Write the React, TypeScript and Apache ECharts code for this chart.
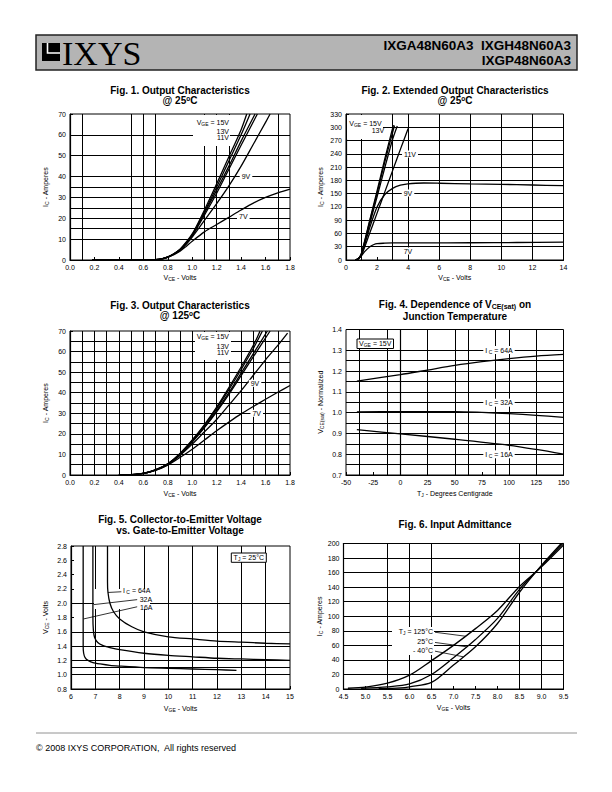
import React, { useEffect, useRef } from "react";
import * as echarts from "echarts";

const FONT = "'Liberation Sans', Arial, Helvetica, sans-serif";

// ---------------- Fig. 1 : Output characteristics @ 25C (VCE, IC)
const fig1Grid = { xs: [0.1, 0.5, 0.6, 0.7, 1.1, 1.2, 1.3, 1.7], ys: [10, 15, 20, 25, 30, 35, 40, 50, 60] };
const fig1V15 = [[0.18, 0], [0.5, 0], [0.7, 0.2], [0.75, 0.5], [0.8, 1.5], [0.85, 3], [0.9, 5.2], [0.95, 8.5], [1.0, 12.5], [1.05, 18], [1.1, 24], [1.2, 36.5], [1.3, 49.5], [1.4, 62.5], [1.446, 70]];
const fig1V13a = [[0.18, 0], [0.5, 0], [0.7, 0.2], [0.75, 0.5], [0.8, 1.5], [0.85, 3], [0.9, 5], [0.95, 8.2], [1.0, 12], [1.05, 17.3], [1.1, 23], [1.2, 35], [1.3, 47.5], [1.4, 60], [1.473, 70]];
const fig1V13 = [[0.18, 0], [0.5, 0], [0.7, 0.2], [0.75, 0.5], [0.8, 1.4], [0.85, 2.9], [0.9, 4.9], [0.95, 8], [1.0, 11.7], [1.1, 22.5], [1.2, 33.5], [1.3, 45], [1.4, 57], [1.514, 70]];
const fig1V11 = [[0.18, 0], [0.5, 0], [0.7, 0.2], [0.75, 0.5], [0.8, 1.4], [0.85, 2.8], [0.9, 4.8], [0.95, 7.8], [1.0, 11.5], [1.1, 21.5], [1.2, 32], [1.3, 43.5], [1.4, 55], [1.533, 70]];
const fig1V9 = [[0.18, 0], [0.5, 0], [0.7, 0.2], [0.75, 0.5], [0.8, 1.4], [0.85, 2.8], [0.9, 4.6], [0.95, 7.5], [1.0, 11], [1.1, 19], [1.2, 27], [1.3, 35.5], [1.4, 45], [1.5, 55.5], [1.6, 66], [1.637, 70]];
const fig1V7 = [[0.18, 0], [0.5, 0], [0.7, 0.2], [0.75, 0.5], [0.8, 1.3], [0.85, 2.5], [0.9, 4.2], [0.95, 6.5], [1.0, 9], [1.1, 13.5], [1.2, 17], [1.3, 20.5], [1.4, 24], [1.5, 27.3], [1.6, 30], [1.7, 32.2], [1.8, 34]];

// ---------------- Fig. 2 : Extended output characteristics @ 25C
const fig2Grid = { xs: [1, 3, 4, 6, 8, 10, 12], ys: [30, 60, 90, 120, 150, 180, 210, 240, 270, 300] };
const fig2V15 = [[0.6, 0], [0.8, 3], [1.0, 16], [1.5, 86], [2.0, 156], [2.5, 229], [3.05, 305]];
const fig2V13a = [[0.6, 0], [0.8, 3], [1.0, 15], [1.5, 83], [2.0, 151], [2.5, 222], [3.12, 304]];
const fig2V13 = [[0.6, 0], [0.8, 3], [1.0, 13], [1.5, 78], [2.0, 143], [2.5, 209], [3.0, 273], [3.3, 303]];
const fig2V11 = [[0.6, 0], [0.8, 3], [1.0, 11], [1.5, 58], [2.0, 106], [2.5, 154], [3.0, 202], [3.5, 250], [4.0, 297]];
const fig2V9 = [[0.6, 0], [0.8, 3], [1.0, 12], [1.5, 70], [2.0, 120], [2.5, 148], [3.0, 162], [3.5, 169], [4.0, 172], [4.5, 173.5], [5, 174], [6, 173.5], [8, 172], [10, 171], [12, 169.5], [14, 168]];
const fig2V7 = [[0.6, 0], [0.9, 6], [1.2, 19], [1.5, 29], [1.8, 35], [2.0, 37], [2.5, 38], [3, 38.5], [5, 38.5], [8, 39], [11, 39.5], [14, 40.5]];

// ---------------- Fig. 3 : Output characteristics @ 125C
const fig3Grid = {
  xs: [0.1, 0.2, 0.3, 0.4, 0.5, 0.6, 0.7, 0.8, 0.9, 1.0, 1.1, 1.2, 1.3, 1.4, 1.5, 1.6, 1.7],
  ys: [5, 10, 15, 20, 25, 30, 35, 40, 45, 50, 55, 60, 65],
};
const fig3V15 = [[0.4, 0], [0.5, 0.2], [0.6, 0.8], [0.7, 2.5], [0.8, 5.5], [0.9, 10.5], [1.0, 17], [1.1, 24.5], [1.2, 33], [1.3, 42.5], [1.4, 52.5], [1.5, 63], [1.555, 70]];
const fig3V13a = [[0.4, 0], [0.5, 0.2], [0.6, 0.8], [0.7, 2.5], [0.8, 5.4], [0.9, 10.3], [1.0, 16.7], [1.1, 24], [1.2, 32.3], [1.3, 41.5], [1.4, 51.3], [1.5, 61.5], [1.574, 70]];
const fig3V13 = [[0.4, 0], [0.5, 0.2], [0.6, 0.8], [0.7, 2.5], [0.8, 5.3], [0.9, 10], [1.0, 16.3], [1.1, 23.3], [1.2, 31.3], [1.3, 40], [1.4, 49.5], [1.5, 59], [1.615, 70]];
const fig3V11 = [[0.4, 0], [0.5, 0.2], [0.6, 0.8], [0.7, 2.5], [0.8, 5.2], [0.9, 9.8], [1.0, 16], [1.1, 23], [1.2, 30.7], [1.3, 39.2], [1.4, 48.3], [1.5, 57.5], [1.637, 70]];
const fig3V9 = [[0.4, 0], [0.5, 0.2], [0.6, 0.8], [0.7, 2.4], [0.8, 5], [0.9, 9.5], [1.0, 15], [1.1, 21], [1.2, 27], [1.3, 34], [1.4, 41], [1.5, 48.5], [1.6, 56], [1.7, 63], [1.78, 69]];
const fig3V7 = [[0.4, 0], [0.5, 0.2], [0.6, 0.8], [0.7, 2.3], [0.8, 4.8], [0.9, 8.5], [1.0, 12.5], [1.1, 17], [1.2, 21.5], [1.3, 25.7], [1.4, 29.7], [1.5, 33.3], [1.6, 36.8], [1.7, 40.2], [1.8, 43.5]];

// ---------------- Fig. 4 : VCE(sat) normalized vs TJ
const fig4Grid = { xs: [-37.5, -12.5, 0, 25, 50, 62.5, 87.5, 100, 125], ys: [0.75, 0.8, 0.85, 0.9, 0.95, 1.0, 1.05, 1.1, 1.15, 1.2, 1.25, 1.3] };
const fig4I64 = [[-40, 1.152], [0, 1.183], [25, 1.205], [50, 1.227], [75, 1.245], [100, 1.26], [125, 1.272], [150, 1.28]];
const fig4I32 = [[-40, 1.003], [0, 1.005], [50, 1.005], [75, 1.001], [100, 0.995], [125, 0.987], [150, 0.977]];
const fig4I16 = [[-40, 0.918], [0, 0.898], [50, 0.872], [100, 0.843], [125, 0.823], [150, 0.8]];

// ---------------- Fig. 5 : VCE vs VGE
const fig5Grid = { xs: [7, 8, 9, 10, 11, 12, 13, 14], ys: [1.0, 1.1, 1.2, 1.4, 1.6, 2.0] };
const fig5I64 = [[7.5, 2.8], [7.5, 2.3], [7.52, 2.15], [7.6, 2.0], [7.75, 1.88], [8, 1.78], [8.5, 1.67], [9, 1.6], [10, 1.53], [11, 1.5], [12, 1.47], [13, 1.455], [14, 1.44], [15, 1.43]];
const fig5I32 = [[6.9, 2.8], [6.9, 1.8], [6.92, 1.62], [6.97, 1.52], [7.1, 1.45], [7.3, 1.41], [7.6, 1.38], [8, 1.35], [9, 1.3], [10, 1.27], [11, 1.25], [12, 1.23], [13, 1.22], [14, 1.21], [15, 1.2]];
const fig5I16 = [[6.5, 2.8], [6.5, 1.4], [6.52, 1.3], [6.58, 1.24], [6.7, 1.2], [6.9, 1.17], [7.2, 1.15], [7.6, 1.13], [8, 1.12], [9, 1.1], [10, 1.09], [11, 1.08], [12, 1.07], [12.8, 1.06]];
const fig5Leaders = [
  [[7.52, 2.15], [8.07, 2.16]],
  [[6.93, 1.98], [8.72, 2.05]],
  [[6.52, 1.78], [8.72, 1.95]],
];

// ---------------- Fig. 6 : Input admittance
const fig6Grid = { xs: [5.5, 6.0, 6.5, 8.5, 9.0], ys: [20, 40, 60, 80, 100, 120, 140, 160, 180] };
const fig6T125 = [[4.6, 1], [5.0, 2.5], [5.5, 8], [6.0, 19], [6.5, 39], [7.0, 60], [7.5, 83], [8.0, 108], [8.5, 141], [9.0, 168], [9.5, 198]];
const fig6T25 = [[4.9, 1], [5.5, 3], [6.0, 7], [6.5, 20], [7.0, 43], [7.5, 68], [8.0, 97], [8.5, 137], [9.0, 169], [9.5, 201]];
const fig6Tm40 = [[5.3, 0.5], [5.8, 1.5], [6.0, 3], [6.5, 9], [7.0, 33], [7.5, 58], [8.0, 90], [8.5, 133], [9.0, 170], [9.45, 200]];
const fig6Leaders = [
  [[6.58, 78], [7.28, 72.5]],
  [[6.58, 64], [7.3, 58]],
  [[6.58, 52], [7.22, 44.3]],
];

// ---------------- axes
const axesCfg = [
  { x: [0, 1.8, 0.2, 1], y: [0, 70, 10, 0], xName: "V{s|CE} - Volts", yName: "I{s|C} - Amperes", xGap: 13, yGap: 21 },
  { x: [0, 14, 2, 0], y: [0, 330, 30, 0], xName: "V{s|CE} - Volts", yName: "I{s|C} - Amperes", xGap: 13, yGap: 22 },
  { x: [0, 1.8, 0.2, 1], y: [0, 70, 10, 0], xName: "V{s|CE} - Volts", yName: "I{s|C} - Amperes", xGap: 14, yGap: 21 },
  { x: [-50, 150, 25, 0], y: [0.7, 1.4, 0.1, 1], xName: "T{s|J} - Degrees Centigrade", yName: "V{s|CE(sat)} - Normalized", xGap: 14, yGap: 22 },
  { x: [6, 15, 1, 0], y: [0.8, 2.8, 0.2, 1], xName: "V{s|GE} - Volts", yName: "V{s|CE} - Volts", xGap: 15, yGap: 22 },
  { x: [4.5, 9.5, 0.5, 1], y: [0, 200, 20, 0], xName: "V{s|GE} - Volts", yName: "I{s|C} - Amperes", xGap: 14, yGap: 19 },
];

const grids = [
  { left: 70, top: 114, width: 220, height: 146 },
  { left: 346, top: 114, width: 217.5, height: 146 },
  { left: 70, top: 331, width: 220, height: 144 },
  { left: 346, top: 329.5, width: 217.5, height: 145.5 },
  { left: 71, top: 546, width: 219, height: 143 },
  { left: 343.5, top: 543.5, width: 220, height: 145.5 },
];

const SUB = { fontSize: 5, fontFamily: FONT, fill: "#000", color: "#000", verticalAlign: "bottom", padding: [3, 0, 0, 0] };
const SUBB = { fontSize: 7, fontFamily: FONT, fontWeight: "bold", fill: "#000", color: "#000", verticalAlign: "bottom", padding: [4, 0, 0, 0] };
const SUP = { fontSize: 6.5, fontFamily: FONT, fontWeight: "bold", fill: "#000", verticalAlign: "top", padding: [0, 0, 4, 0] };

function axisCommon(min: number, max: number, interval: number, dec: number, name: string, gap: number) {
  return {
    type: "value",
    min,
    max,
    interval,
    axisLine: { show: true, lineStyle: { color: "#000", width: 1.2 } },
    axisTick: { show: true, inside: true, length: 3, lineStyle: { color: "#000", width: 1 } },
    axisLabel: {
      fontSize: 7,
      color: "#000",
      fontFamily: FONT,
      margin: 4,
      formatter: (v: number) => v.toFixed(dec),
    },
    splitLine: { show: false },
    name,
    nameLocation: "middle",
    nameGap: gap,
    nameTextStyle: { fontSize: 7, color: "#000", fontFamily: FONT, rich: { s: { ...SUB } } },
  };
}

function gridSeries(i: number, g: { xs: number[]; ys: number[] }, cfg: any) {
  return {
    type: "line",
    xAxisIndex: i,
    yAxisIndex: i,
    data: [[cfg.x[0], cfg.y[0]]],
    showSymbol: false,
    lineStyle: { opacity: 0 },
    silent: true,
    z: 1,
    markLine: {
      z: 1,
      silent: true,
      symbol: ["none", "none"],
      label: { show: false },
      emphasis: { disabled: true },
      lineStyle: { color: "#000", width: 1, type: "solid" },
      data: [...g.xs.map((v) => ({ xAxis: v })), ...g.ys.map((v) => ({ yAxis: v }))],
    },
  };
}

function curve(i: number, name: string, data: number[][], smooth = 0.3) {
  return {
    type: "line",
    name,
    xAxisIndex: i,
    yAxisIndex: i,
    data,
    smooth,
    showSymbol: false,
    silent: true,
    z: 3,
    lineStyle: { color: "#000", width: 1.3 },
  };
}

function leaderSeries(i: number, leaders: number[][][]) {
  return {
    type: "line",
    xAxisIndex: i,
    yAxisIndex: i,
    data: [],
    silent: true,
    z: 4,
    markLine: {
      z: 4,
      silent: true,
      symbol: ["none", "none"],
      label: { show: false },
      emphasis: { disabled: true },
      lineStyle: { color: "#000", width: 0.8, type: "solid" },
      data: leaders.map((l) => [{ coord: l[0] }, { coord: l[1] }]),
    },
  };
}

function txt(x: number, y: number, text: string, o: any = {}) {
  const align = o.align || "center";
  return {
    type: "text",
    x,
    y,
    z: o.z ?? 5,
    silent: true,
    style: {
      text,
      fill: "#000",
      fontSize: o.size || 7,
      fontFamily: o.family || FONT,
      fontWeight: o.weight || "normal",
      align,
      textAlign: align,
      verticalAlign: "middle",
      textVerticalAlign: "middle",
      backgroundColor: o.bg,
      padding: o.bg ? [0, 2, 0, 2] : 0,
      rich: o.rich || { s: { ...SUB }, sb: { ...SUBB }, sp: { ...SUP } },
    },
  };
}

function box(x: number, y: number, w: number, h: number, border = false) {
  return {
    type: "rect",
    z: 2,
    silent: true,
    shape: { x, y, width: w, height: h },
    style: { fill: "#fff", stroke: border ? "#000" : null, lineWidth: border ? 1 : 0 },
  };
}

function title(x: number, y: number, text: string) {
  return txt(x, y, text, { size: 10, weight: "bold" });
}

export default function App() {
  const ref = useRef<HTMLDivElement>(null);
  useEffect(() => {
    const chart = echarts.init(ref.current!, undefined, { renderer: "svg", width: 612, height: 792 });

    const xAxis = axesCfg.map((c, i) => ({ gridIndex: i, ...axisCommon(c.x[0], c.x[1], c.x[2], c.x[3], c.xName, c.xGap) }));
    const yAxis = axesCfg.map((c, i) => ({ gridIndex: i, ...axisCommon(c.y[0], c.y[1], c.y[2], c.y[3], c.yName, c.yGap) }));

    const series: any[] = [
      gridSeries(0, fig1Grid, axesCfg[0]),
      curve(0, "15V", fig1V15),
      curve(0, "13V a", fig1V13a),
      curve(0, "13V", fig1V13),
      curve(0, "11V", fig1V11),
      curve(0, "9V", fig1V9),
      curve(0, "7V", fig1V7),
      gridSeries(1, fig2Grid, axesCfg[1]),
      curve(1, "15V", fig2V15, 0.2),
      curve(1, "13V a", fig2V13a, 0.2),
      curve(1, "13V", fig2V13, 0.2),
      curve(1, "11V", fig2V11, 0.2),
      curve(1, "9V", fig2V9),
      curve(1, "7V", fig2V7),
      gridSeries(2, fig3Grid, axesCfg[2]),
      curve(2, "15V", fig3V15),
      curve(2, "13V a", fig3V13a),
      curve(2, "13V", fig3V13),
      curve(2, "11V", fig3V11),
      curve(2, "9V", fig3V9),
      curve(2, "7V", fig3V7),
      gridSeries(3, fig4Grid, axesCfg[3]),
      curve(3, "64A", fig4I64),
      curve(3, "32A", fig4I32),
      curve(3, "16A", fig4I16),
      gridSeries(4, fig5Grid, axesCfg[4]),
      curve(4, "64A", fig5I64, 0.25),
      curve(4, "32A", fig5I32, 0.25),
      curve(4, "16A", fig5I16, 0.25),
      leaderSeries(4, fig5Leaders),
      gridSeries(5, fig6Grid, axesCfg[5]),
      curve(5, "125C", fig6T125),
      curve(5, "25C", fig6T25),
      curve(5, "-40C", fig6Tm40),
      leaderSeries(5, fig6Leaders),
    ];

    const graphic: any[] = [
      // header
      { type: "rect", z: 1, silent: true, shape: { x: 36, y: 35, width: 541, height: 35 }, style: { fill: "#b4b4b4", stroke: "#222", lineWidth: 1.5 } },
      { type: "rect", z: 2, silent: true, shape: { x: 42, y: 43, width: 18, height: 18 }, style: { fill: "#000" } },
      { type: "polyline", z: 3, silent: true, shape: { points: [[47.5, 43], [47.5, 53], [60, 53]] }, style: { stroke: "#fff", lineWidth: 1.6, fill: null } },
      txt(62, 53, "IXYS", { size: 34, family: "'Liberation Serif', 'Times New Roman', serif", align: "left" }),
      txt(571, 45, "IXGA48N60A3  IXGH48N60A3", { size: 13.5, weight: "bold", align: "right" }),
      txt(571, 60, "IXGP48N60A3", { size: 13.5, weight: "bold", align: "right" }),

      // titles
      title(180, 90, "Fig. 1. Output Characteristics"),
      title(180, 100.5, "@ 25{sp|o}C"),
      title(455, 90, "Fig. 2. Extended Output Characteristics"),
      title(455, 100.5, "@ 25{sp|o}C"),
      title(180, 305, "Fig. 3. Output Characteristics"),
      title(180, 315.5, "@ 125{sp|o}C"),
      title(455, 304.5, "Fig. 4. Dependence of V{sb|CE(sat)} on"),
      title(455, 316.5, "Junction Temperature"),
      title(180, 519.5, "Fig. 5. Collector-to-Emitter Voltage"),
      title(180, 530.5, "vs. Gate-to-Emitter Voltage"),
      title(455, 524.5, "Fig. 6. Input Admittance"),

      // fig 1 labels
      box(193, 115, 37, 31),
      txt(229, 122.3, "V{s|GE} = 15V", { align: "right" }),
      txt(229, 131.7, "13V", { align: "right" }),
      txt(229, 137.5, "11V", { align: "right" }),
      txt(246, 176.7, "9V", { bg: "#fff" }),
      txt(243.3, 216.7, "7V", { bg: "#fff" }),

      // fig 2 labels
      box(347, 115, 36, 24),
      txt(349.3, 123.3, "V{s|GE} = 15V", { align: "left" }),
      txt(371.7, 130.7, "13V", { align: "left" }),
      txt(410, 154, "11V", { bg: "#fff" }),
      txt(408, 193, "9V", { bg: "#fff" }),
      txt(408, 251, "7V", { bg: "#fff" }),

      // fig 3 labels
      box(195, 332, 36, 28),
      txt(229, 336.7, "V{s|GE} = 15V", { align: "right" }),
      txt(229, 346, "13V", { align: "right" }),
      txt(229, 352.3, "11V", { align: "right" }),
      txt(255, 383.3, "9V", { bg: "#fff" }),
      txt(256.7, 413.3, "7V", { bg: "#fff" }),

      // fig 4 labels
      box(357, 339, 36.5, 9.5, true),
      txt(375.2, 343.8, "V{s|GE} = 15V"),
      txt(499, 350, "I{s| C} = 64A", { bg: "#fff" }),
      txt(499, 402.7, "I{s| C} = 32A", { bg: "#fff" }),
      txt(499, 454.3, "I{s| C} = 16A", { bg: "#fff" }),

      // fig 5 labels
      box(231.3, 553, 35, 9.3, true),
      txt(248.8, 557.7, "T{s|J} = 25°C"),
      box(94, 589, 56, 20),
      txt(123, 590.7, "I{s| C} = 64A", { align: "left" }),
      txt(139.7, 599, "32A", { align: "left" }),
      txt(140, 607, "16A", { align: "left" }),

      // fig 6 labels
      box(392, 627, 42, 28),
      txt(433, 631.7, "T{s|J} = 125°C", { align: "right" }),
      txt(433, 641.7, "25°C", { align: "right" }),
      txt(433, 650.3, "- 40°C", { align: "right" }),

      // footer
      { type: "line", z: 1, silent: true, shape: { x1: 36, y1: 733, x2: 577, y2: 733 }, style: { stroke: "#777", lineWidth: 0.8 } },
      txt(36, 748, "© 2008 IXYS CORPORATION,  All rights reserved", { size: 9, align: "left" }),
    ];

    chart.setOption({
      animation: false,
      backgroundColor: "#fff",
      grid: grids.map((g) => ({ ...g, show: true, borderColor: "#000", borderWidth: 1, containLabel: false })),
      xAxis,
      yAxis,
      series,
      graphic,
    });
    return () => chart.dispose();
  }, []);
  return <div ref={ref} style={{ position: "absolute", left: 0, top: 0, width: 612, height: 792, background: "#fff" }} />;
}
